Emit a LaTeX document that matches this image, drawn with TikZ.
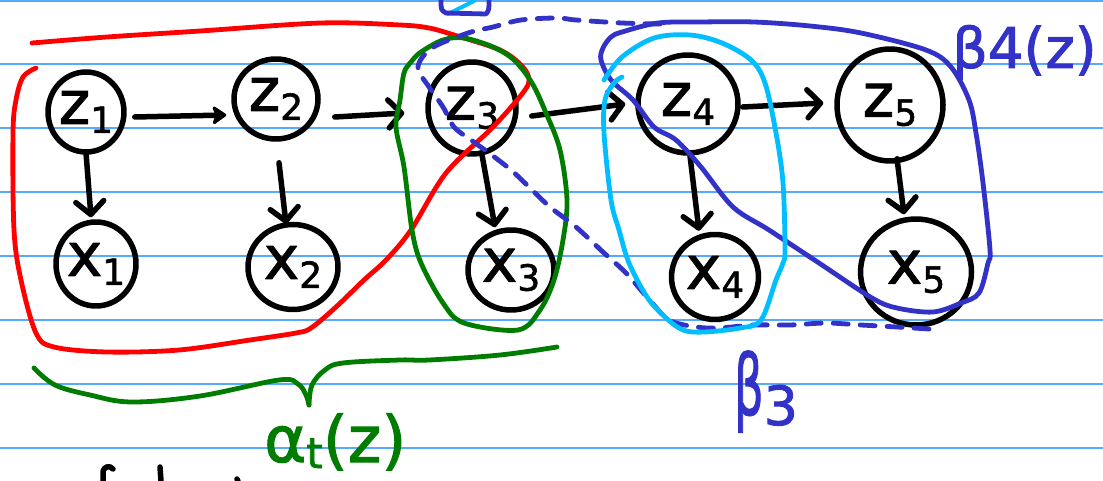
\documentclass[tikz,border=0pt]{standalone}
\usepackage{fontspec}
\setmainfont{DejaVu Sans}[FakeBold=1.6]
\usetikzlibrary{shapes.geometric,arrows.meta}

\definecolor{rulecol}{RGB}{85,170,255}
\definecolor{penred}{RGB}{255,0,0}
\definecolor{pengreen}{RGB}{0,125,0}
\definecolor{penblue}{RGB}{50,50,200}
\definecolor{pencyan}{RGB}{0,190,255}

% variable name with a lowered index digit
\newcommand\varlab[2]{{\fontsize{60}{60}\selectfont #1}\raisebox{-9pt}{\fontsize{36}{36}\selectfont #2}}

\begin{document}
\begin{tikzpicture}[x=1pt,y=-1pt,
  ink/.style={line width=5.5pt, line cap=round, line join=round},
  ell/.style={ellipse, draw, ink, inner sep=-8pt},
  barb/.style={ink, -{Straight Barb[length=13pt,width=28pt,round]}},
  barbfill/.style={ink, -{Stealth[length=16pt,width=22pt,inset=4pt,round]}},
  loop/.style={line width=4.8pt, line cap=round, line join=round},
  dashloop/.style={loop, dash pattern=on 15pt off 12pt},
  lbl/.style={inner sep=0pt, anchor=base west}]

\fill[white] (0,0) rectangle (1103,481);
\useasboundingbox (0,0) rectangle (1103,481);

% ruled paper
\foreach \yy in {1,64,128,192,256,320,384,448}
  \draw[rulecol, line width=1.6pt] (0,\yy) -- (1103,\yy);

% hidden states
\node[ell, minimum width=76pt,  minimum height=80pt]  (z1) at (86,112)  {\varlab{z}{1}};
\node[ell, minimum width=84pt,  minimum height=80pt]  (z2) at (276,99)  {\varlab{z}{2}};
\node[ell, minimum width=88pt,  minimum height=92pt]  (z3) at (472,108) {\varlab{z}{3}};
\node[ell, minimum width=100pt, minimum height=98pt]  (z4) at (688,104) {\varlab{z}{4}};
\node[ell, minimum width=106pt, minimum height=112pt] (z5) at (890,105) {\varlab{z}{5}};

% observations
\node[ell, minimum width=80pt,  minimum height=84pt]  (x1) at (96,264)  {\varlab{x}{1}};
\node[ell, minimum width=90pt,  minimum height=85pt]  (x2) at (293,267) {\varlab{x}{2}};
\node[ell, minimum width=86pt,  minimum height=80pt]  (x3) at (511,270) {\varlab{x}{3}};
\node[ell, minimum width=87pt,  minimum height=85pt]  (x4) at (715,277) {\varlab{x}{4}};
\node[ell, minimum width=111pt, minimum height=106pt] (x5) at (916,272) {\varlab{x}{5}};

% transitions
\draw[barbfill] ([shift={(8,5)}]z1.east)   -- ([shift={(-5,16)}]z2.west);
\draw[barb]     ([shift={(14,18)}]z2.east) -- ([shift={(-21,5)}]z3.west);
\draw[barb]     ([shift={(13,8)}]z3.east)  -- ([shift={(-10,0)}]z4.west);
\draw[barb]     ([shift={(2,3)}]z4.east)   -- ([shift={(-11,-2)}]z5.west);

% emissions
\draw[barb] ([shift={(0,-2)}]z1.south)  -- ([shift={(-5,-2)}]x1.north);
\draw[barb] ([shift={(3,21)}]z2.south)  -- ([shift={(-7,2)}]x2.north);
\draw[barb] ([shift={(10,-2)}]z3.south) -- ([shift={(-16,0)}]x3.north);
\draw[barb] ([shift={(2,0)}]z4.south)   -- ([shift={(-16,-1)}]x4.north);
\draw[barb] ([shift={(7,-5)}]z5.south)  -- ([shift={(-12,-2)}]x5.north);

% forward part (red)
\draw[penred, loop] plot[smooth, tension=0.55] coordinates {
  (32,43) (107,37) (200,31) (321,23) (400,25) (429,28) (454,35) (500,50)
  (522,66) (529,80) (522,94) (493,127) (446,173) (411,230) (386,260)
  (364,280) (336,307) (311,328) (296,333) (250,340) (179,350) (107,352)
  (54,347) (36,333) (21,280) (14,230) (13,133) (16,100) (23,77) (36,68)};

% alpha_3 group (green)
\draw[pengreen, loop] plot[smooth cycle, tension=0.55] coordinates {
  (411,62) (421,52) (443,40) (464,38) (493,47) (514,60) (532,83) (546,113)
  (560,150) (567,200) (563,240) (554,280) (540,310) (518,330) (464,323)
  (443,303) (421,263) (412,230) (404,167) (396,127) (400,100) (404,73)};

% backward part beta_3 (dashed blue)
\draw[penblue, dashloop] plot[smooth, tension=0.55] coordinates {
  (929,329) (897,327) (861,325) (826,323) (790,325) (754,325) (719,328)
  (697,327) (669,320) (647,297) (626,273) (604,253) (576,227) (550,207)
  (529,187) (511,170) (489,153) (471,140) (454,127) (443,107) (429,87)
  (418,67) (432,48) (468,33) (493,27) (521,20) (557,18) (576,20) (622,23)
  (660,24)};

% beta_4 group (solid blue)
\draw[penblue, loop] plot[smooth cycle, tension=0.55] coordinates {
  (622,32) (658,23) (700,22) (754,22) (810,26) (861,33) (926,50) (951,67)
  (969,100) (976,133) (983,183) (990,250) (988,263) (979,293) (961,303)
  (933,312) (897,308) (872,298) (819,263) (769,230) (733,207) (701,167)
  (676,140) (654,127) (633,100) (611,80) (601,60) (603,48) (611,37)};

% beta_3 group (light blue)
\draw[pencyan, loop] plot[smooth, tension=0.55] coordinates {
  (604,80) (622,57) (654,38) (690,35) (722,43) (751,60) (765,83) (776,133)
  (783,183) (785,250) (783,263) (776,280) (761,320) (740,328) (704,332)
  (683,330) (665,317) (647,297) (629,263) (619,230) (611,200) (604,133)
  (605,100) (614,83) (622,77)};

% small mark at the top edge
\draw[pencyan, line width=4pt, line cap=round] (448,14) -- (474,1);
\draw[penblue, loop] (441,0) .. controls (441,10) .. (446,13) -- (486,14)
  .. controls (489,10) .. (489,0);

% brace under the forward part
\draw[pengreen, loop] plot[smooth, tension=0.6] coordinates {
  (34,368) (55,385) (90,395) (132,402) (200,396) (279,380) (298,384)
  (306,395) (309,405)};
\draw[pengreen, loop] plot[smooth, tension=0.6] coordinates {
  (309,405) (312,385) (325,370) (343,363) (400,360) (429,360) (500,355)
  (557,347)};

% labels
\node[lbl, text=penblue] (b4) at (952,68)
  {\fontsize{56}{56}\selectfont β4(z)};
\node[lbl, text=penblue] (b3) at (734,415)
  {\fontsize{84}{84}\selectfont\scalebox{0.55}[1]{β}\raisebox{-10pt}{\fontsize{54}{54}\selectfont 3}};
\node[lbl, text=pengreen] (al) at (264,462)
  {\fontsize{64}{64}\selectfont α\raisebox{-6pt}{\fontsize{42}{42}\selectfont t}(z)};

% start of a line of writing below
\draw[ink] (103,481) -- (103,473) .. controls (103,466) and (110,465) .. (113,469);
\draw[ink] (160,467) -- (161,481);
\draw[ink] (237,479) -- (238,481);

\end{tikzpicture}
\end{document}
